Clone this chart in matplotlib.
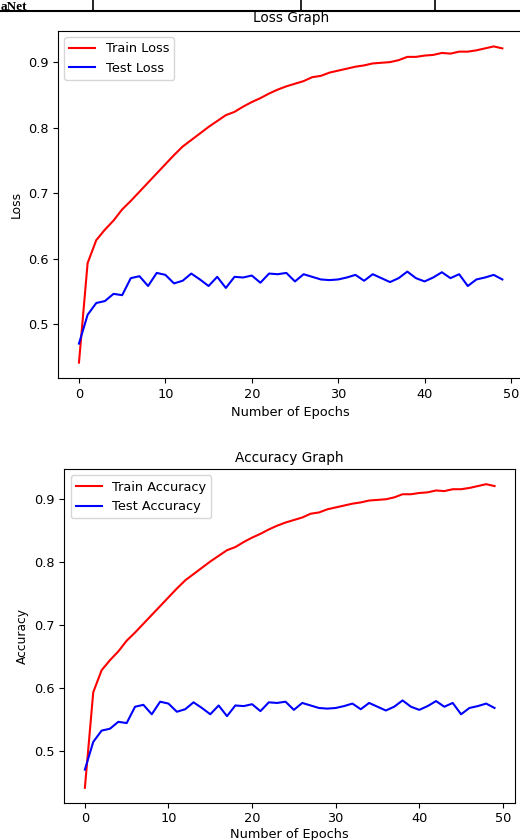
import matplotlib
matplotlib.use("Agg")
import matplotlib.pyplot as plt
from matplotlib.lines import Line2D

epochs = list(range(50))
train_vals = [0.441, 0.593, 0.628, 0.644, 0.658, 0.675, 0.688, 0.702, 0.716, 0.730,
              0.744, 0.758, 0.771, 0.781, 0.791, 0.801, 0.810, 0.819, 0.824, 0.832,
              0.839, 0.845, 0.852, 0.858, 0.863, 0.867, 0.871, 0.877, 0.879, 0.884,
              0.887, 0.890, 0.893, 0.895, 0.898, 0.899, 0.900, 0.903, 0.908, 0.908,
              0.910, 0.911, 0.914, 0.913, 0.916, 0.916, 0.918, 0.921, 0.924, 0.921]
test_vals = [0.470, 0.514, 0.532, 0.535, 0.546, 0.544, 0.570, 0.573, 0.558, 0.578,
             0.575, 0.562, 0.566, 0.577, 0.568, 0.558, 0.572, 0.555, 0.572, 0.571,
             0.574, 0.563, 0.577, 0.576, 0.578, 0.565, 0.576, 0.572, 0.568, 0.567,
             0.568, 0.571, 0.575, 0.566, 0.576, 0.570, 0.564, 0.570, 0.580, 0.570,
             0.565, 0.571, 0.579, 0.570, 0.576, 0.558, 0.568, 0.571, 0.575, 0.568]
x_ticks = [0, 10, 20, 30, 40, 50]
y_ticks = [0.5, 0.6, 0.7, 0.8, 0.9]

W, H = 520, 840
fig = plt.figure(figsize=(W / 100, H / 100), dpi=100)
FS = 9.3

def px_axes(left, top, right, bottom):
    return fig.add_axes([left / W, 1 - bottom / H, (right - left) / W, (bottom - top) / H])

panels = [
    dict(box=(57.8, 30.6, 523.5, 378.4), title="Loss Graph", ylabel="Loss",
         labels=("Train Loss", "Test Loss"), xpad=3.5, tpad=6),
    dict(box=(64.4, 469.0, 515.0, 803.0), title="Accuracy Graph", ylabel="Accuracy",
         labels=("Train Accuracy", "Test Accuracy"), xpad=1.5, tpad=5),
]

for p in panels:
    ax = px_axes(*p["box"])
    ax.plot(epochs, train_vals, color="red", lw=1.5, label=p["labels"][0])
    ax.plot(epochs, test_vals, color="blue", lw=1.5, label=p["labels"][1])
    ax.set_xticks(x_ticks)
    ax.set_yticks(y_ticks)
    ax.tick_params(labelsize=FS, length=3.3)
    ax.set_title(p["title"], fontsize=FS + 0.5, pad=p["tpad"])
    ax.set_xlabel("Number of Epochs", fontsize=FS, labelpad=p["xpad"])
    ax.set_ylabel(p["ylabel"], fontsize=FS - 0.5)
    ax.legend(loc="upper left", fontsize=FS)

# fragment of a table at the top of the page
fig.add_artist(Line2D([0, 1], [1 - 11 / H, 1 - 11 / H], color="black", lw=1.5))
for xv in (93, 301, 435):
    fig.add_artist(Line2D([xv / W, xv / W], [1, 1 - 11 / H], color="black", lw=1.2))
fig.text(1 / W, 1 - 10 / H, "aNet", fontsize=9.5, fontweight="bold",
         family="Liberation Serif", va="baseline", ha="left")

fig.savefig("out.png", dpi=100)
